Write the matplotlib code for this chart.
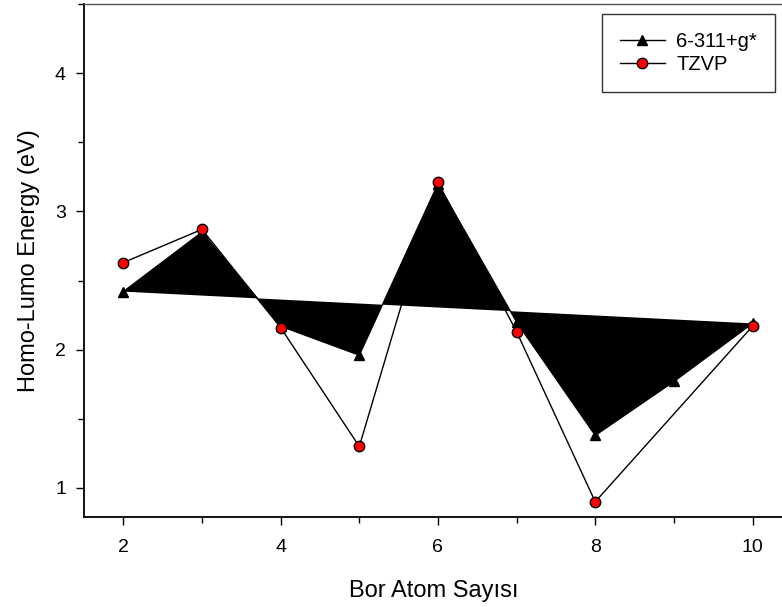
import matplotlib.pyplot as plt
from matplotlib.ticker import MultipleLocator

plt.rcParams.update({
    "font.family": ["Liberation Sans", "DejaVu Sans"],
    "font.size": 14,
})

# Number of boron atoms and HOMO-LUMO gaps for the two basis sets
atoms = [2, 3, 4, 5, 6, 7, 8, 9, 10]
gap_6311 = [2.42, 2.85, 2.17, 1.96, 3.20, 2.20, 1.38, 1.77, 2.19]

atoms_tzvp = [2, 3, 4, 5, 6, 7, 8, 10]
gap_tzvp = [2.63, 2.87, 2.16, 1.30, 3.21, 2.13, 0.90, 2.17]

fig = plt.figure(figsize=(7.82, 6.07), dpi=100)
ax = fig.add_axes([84 / 782, 1 - 517 / 607, 700 / 782, 513 / 607])

# 6-311+g* series drawn as a closed, filled path
ax.fill(atoms, gap_6311, color="black", lw=0, zorder=2)
ax.plot(atoms, gap_6311, color="black", lw=1.0, marker="^", ms=7.5,
        mfc="black", mec="black", label="6-311+g*", zorder=3)

ax.plot(atoms_tzvp, gap_tzvp, color="black", lw=1.0, marker="o", ms=7.5,
        mfc="red", mec="black", mew=1.0, label="TZVP", zorder=4)

ax.set_xlim(1.5, 10.4)
ax.set_ylim(0.79, 4.5)

ax.xaxis.set_major_locator(MultipleLocator(2))
ax.xaxis.set_minor_locator(MultipleLocator(1))
ax.yaxis.set_major_locator(MultipleLocator(1))
ax.yaxis.set_minor_locator(MultipleLocator(0.5))
ax.tick_params(which="major", direction="out", length=6, width=1)
ax.tick_params(which="minor", direction="out", length=4, width=1)
ax.tick_params(axis="x", which="major", pad=10)
ax.tick_params(axis="y", which="major", pad=7)

ax.spines["right"].set_visible(False)
ax.spines["top"].set_linewidth(1.0)
ax.spines["top"].set_color("#555555")
for s in ["left", "bottom"]:
    ax.spines[s].set_linewidth(1.3)

ax.set_xlabel("Bor Atom Sayısı", fontsize=17, labelpad=17)
ax.set_ylabel("Homo-Lumo Energy (eV)", fontsize=17, labelpad=11)

leg = ax.legend(loc="upper right", bbox_to_anchor=(0.987, 0.9805),
                frameon=True, fancybox=False, edgecolor="black",
                fontsize=14.5, handlelength=2.25, borderpad=0.9,
                labelspacing=0.2, handletextpad=0.55, borderaxespad=0,
                markerscale=1.0)
leg.get_frame().set_linewidth(1.0)

fig.savefig("out.png", dpi=100)
